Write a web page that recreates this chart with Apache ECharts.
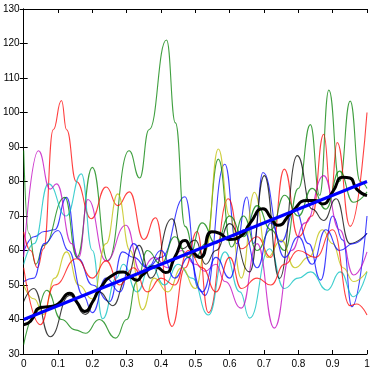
<!DOCTYPE html>
<html><head><meta charset="utf-8">
<script src="https://cdn.jsdelivr.net/npm/echarts@6/dist/echarts.min.js"></script>
<style>html,body{margin:0;padding:0;background:#fff}#c{width:374px;height:369px}</style>
</head><body><div id="c"></div>
<script>
const xTicks = [0,0.1,0.2,0.3,0.4,0.5,0.6,0.7,0.8,0.9,1];
const yTicks = [30,40,50,60,70,80,90,100,110,120,130];

const blue1 = [[0,59.6],[0.03,64],[0.06,65.5],[0.09,66],[0.125,75.4],[0.158,57.7],[0.2,50],[0.25,45.2],[0.288,59.6],[0.32,58],[0.36,55],[0.4,58],[0.47,75.6],[0.509,49],[0.528,47],[0.586,85],[0.62,62],[0.65,75.5],[0.67,62],[0.697,82.6],[0.75,62.5],[0.79,72],[0.83,62],[0.865,51.4],[0.9,70],[0.93,63],[0.956,43.7],[1,70]];
const green1 = [[0,89],[0.015,65],[0.035,56],[0.058,61.5],[0.12,75.4],[0.155,58],[0.2,84.1],[0.245,57],[0.307,88.9],[0.338,81],[0.365,95],[0.416,121],[0.442,97],[0.47,67],[0.5,58],[0.53,62],[0.567,86.5],[0.605,61],[0.64,70],[0.68,60],[0.72,66],[0.76,60],[0.8,78],[0.835,96.5],[0.862,76],[0.889,106.5],[0.92,80],[0.951,103.3],[0.98,80],[1,78]];
const red1 = [[0,65.4],[0.02,60],[0.04,55],[0.058,60.5],[0.086,95],[0.11,103.5],[0.125,95],[0.153,80],[0.197,69.2],[0.24,78.4],[0.274,73],[0.308,77],[0.35,63.2],[0.384,69.5],[0.432,38],[0.47,55],[0.505,65.5],[0.538,42],[0.596,75],[0.634,60.5],[0.68,64],[0.72,58],[0.759,83.6],[0.8,64],[0.84,70],[0.874,93.7],[0.895,76],[0.913,91.3],[0.951,67],[1,100]];
const cyan1 = [[0,56],[0.03,62],[0.072,79.3],[0.124,70],[0.168,82.2],[0.2,60],[0.23,40.2],[0.27,52],[0.29,56],[0.33,48],[0.37,55.8],[0.41,50],[0.45,56],[0.49,52],[0.538,41.3],[0.586,59.6],[0.63,48],[0.658,40.4],[0.716,60.5],[0.759,49],[0.8,52],[0.836,53.8],[0.884,48.5],[0.922,53.8],[0.961,46.6],[1,53.8]];
const magenta1 = [[0,58.2],[0.043,88.9],[0.077,77.8],[0.096,79.3],[0.14,62],[0.16,58],[0.187,74.8],[0.24,57],[0.298,67.3],[0.34,54],[0.38,58],[0.42,55],[0.46,60],[0.5,56],[0.528,54],[0.56,56],[0.586,51],[0.634,43.3],[0.68,62],[0.73,37.5],[0.78,60],[0.82,68],[0.874,81.7],[0.92,66],[0.961,52.9],[1,59.6]];
const yellow1 = [[0,50],[0.03,46],[0.058,41.5],[0.09,52],[0.125,59.6],[0.16,50],[0.2,46],[0.24,62],[0.274,76.4],[0.31,60],[0.346,42.8],[0.38,52],[0.42,48],[0.46,55],[0.5,49],[0.53,60],[0.567,89.4],[0.6,70],[0.634,52],[0.672,76.9],[0.71,58],[0.75,63],[0.79,55],[0.83,58],[0.87,66],[0.9,62],[0.93,55],[0.961,51],[1,54]];
const gray1 = [[0,45.2],[0.029,49],[0.077,35],[0.134,47],[0.18,41.5],[0.22,48],[0.26,44],[0.3,52],[0.336,61.5],[0.37,52],[0.432,69.2],[0.461,60.5],[0.5,63],[0.53,56],[0.56,60],[0.6,67.8],[0.658,53.8],[0.701,81.7],[0.745,51.9],[0.797,87.5],[0.84,72],[0.874,68.7],[0.91,75],[0.95,62],[1,65]];
const blue2 = [[0,51],[0.03,52],[0.06,62],[0.1,65.8],[0.13,60],[0.173,47],[0.2,42],[0.24,52],[0.28,48],[0.32,62],[0.36,55],[0.4,60],[0.44,52],[0.48,58],[0.52,48],[0.56,58],[0.6,52],[0.64,66],[0.68,55],[0.72,68],[0.76,58],[0.8,64],[0.84,56],[0.88,66],[0.92,60],[0.96,62],[1,65]];
const green2 = [[0,32.7],[0.035,42],[0.067,48.5],[0.11,40],[0.15,37],[0.18,36],[0.22,40],[0.268,34.6],[0.3,40],[0.33,51],[0.36,60],[0.4,56],[0.44,64],[0.48,58],[0.52,68],[0.56,62],[0.6,70],[0.64,64],[0.68,73],[0.72,66],[0.76,76],[0.8,70],[0.84,78],[0.88,72],[0.92,83],[0.96,74],[1,77]];
const red2 = [[0,55],[0.048,38.5],[0.09,50],[0.154,57.6],[0.2,52],[0.24,57],[0.28,50],[0.32,55],[0.36,48],[0.4,52],[0.44,50],[0.48,60],[0.52,55],[0.56,48],[0.6,58],[0.634,49],[0.68,52],[0.72,50],[0.76,56],[0.8,60],[0.85,58],[0.9,66],[0.951,44],[0.97,44.5],[1,41.3]];
const meanCurve = [[0,38.5],[0.02,39.5],[0.05,43.5],[0.08,43.8],[0.1,44.5],[0.134,47.6],[0.155,45],[0.178,42.3],[0.2,45],[0.22,48.6],[0.26,52.9],[0.29,53.8],[0.31,52.5],[0.33,51.4],[0.346,52.9],[0.384,55.3],[0.413,53.6],[0.44,58],[0.47,62.9],[0.49,60],[0.514,58],[0.548,65.4],[0.57,65],[0.6,63.2],[0.63,64],[0.66,68],[0.697,72.1],[0.72,69.5],[0.74,67.3],[0.78,71],[0.826,74.5],[0.85,74.5],[0.87,73.5],[0.9,77],[0.93,81.2],[0.95,81],[0.97,77.8],[1,75.9]];
const fitLine = [[0,40],[1,80]];

const thin = [
  [blue1,'#0000ff'],[green1,'#008000'],[red1,'#ff0000'],[cyan1,'#00bfbf'],
  [magenta1,'#bf00bf'],[yellow1,'#bfbf00'],[gray1,'#000000'],
  [blue2,'#0000ff'],[green2,'#008000'],[red2,'#ff0000']
];

const chart = echarts.init(document.getElementById('c'), null, {renderer:'canvas'});
const font = 'Liberation Sans, Arial, sans-serif';
const axisCommon = {
  axisLine:{show:true,lineStyle:{color:'#000',width:1}},
  axisTick:{show:true,inside:true,length:4,lineStyle:{color:'#000'}},
  splitLine:{show:false}
};
const series = thin.map(([d,c]) => ({
  type:'line', data:d, smooth:0.5, smoothMonotone:'x', showSymbol:false, symbol:'none',
  lineStyle:{color:c,width:1.1,opacity:0.75}, silent:true, animation:false
}));
series.push({type:'line',data:meanCurve,smooth:0.6,symbol:'none',lineStyle:{color:'#000',width:3},animation:false});
series.push({type:'line',data:fitLine,symbol:'none',lineStyle:{color:'#0000ff',width:3},animation:false});

chart.setOption({
  animation:false,
  grid:{left:20,right:7,top:9,bottom:13,containLabel:false},
  xAxis:[
    Object.assign({type:'value',min:0,max:1,interval:0.1,position:'bottom',
      axisLabel:{color:'#000',fontSize:10,fontFamily:font,margin:5,
        formatter:v=>{const r=Math.round(v*10)/10;return String(r);}}},axisCommon),
    Object.assign({type:'value',min:0,max:1,interval:0.1,position:'top',axisLabel:{show:false}},axisCommon)
  ],
  yAxis:[
    Object.assign({type:'value',min:30,max:130,interval:10,position:'left',
      axisLabel:{color:'#000',fontSize:10,fontFamily:font,margin:4}},axisCommon),
    Object.assign({type:'value',min:30,max:130,interval:10,position:'right',axisLabel:{show:false}},axisCommon)
  ],
  series:series
});
</script></body></html>
